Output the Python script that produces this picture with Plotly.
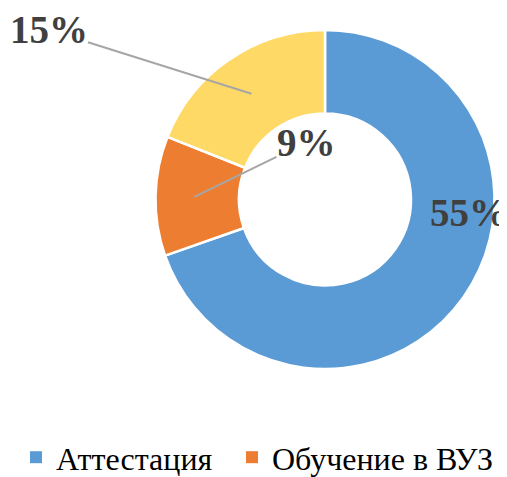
import math
import plotly.graph_objects as go

# ---- data ----
labels = ["Аттестация", "Обучение в ВУЗ", "Другое"]
values = [55, 9, 15]
label_texts = ["55%", "9%", "15%"]
colors = ["#5B9BD5", "#ED7D31", "#FFD966"]
legend_labels = ["Аттестация", "Обучение в ВУЗ"]

W, H = 507, 477
OFF = 8  # page body margin shifts the figure by this many px
cx, cy, R, r_in = 325 - OFF, 204 - OFF, 173.5, 88

def px2paper(x, y):
    return x / W, 1 - y / H

fig = go.Figure()
fig.add_trace(go.Pie(
    labels=labels, values=values, sort=False, direction="clockwise", rotation=0,
    hole=r_in / R, marker=dict(colors=colors, line=dict(color="white", width=2.5)),
    textinfo="none", hoverinfo="label+value", showlegend=False,
    domain=dict(x=[(cx - R) / W, (cx + R) / W], y=[1 - (cy + R) / H, 1 - (cy - R) / H]),
))

# legend entries (only the two shown in the reference), each in its own legend box
legend_ids = ["legend", "legend2"]
for name, col, lid in zip(legend_labels, colors, legend_ids):
    fig.add_trace(go.Scatter(x=[None], y=[None], mode="markers", name=name, legend=lid,
                             marker=dict(symbol="square", size=12, color=col)))

# label positions derived from slice angles
total = sum(values)
cum = 0
mid_angles = []
for v in values:
    mid_angles.append((cum + v / 2) / total * 2 * math.pi)
    cum += v

def ring_point(angle, rad):
    return cx + rad * math.sin(angle), cy - rad * math.cos(angle)

rm = (R + r_in) / 2
font = dict(family="Liberation Serif", size=39, color="#404040")
# 55% label inside blue slice
x, y = px2paper(469 - OFF, 217 - OFF)
fig.add_annotation(x=x, y=y, xref="paper", yref="paper", xanchor="center", yanchor="middle",
                   text="<b>%s</b>" % label_texts[0], showarrow=False, font=font,
                   borderpad=0, borderwidth=0)
# 9% with leader
hx, hy = ring_point(mid_angles[1], rm)
x, y = px2paper(hx, hy)
fig.add_annotation(x=x, y=y, xref="paper", yref="paper",
                   text="<b>%s</b>" % label_texts[1], font=font,
                   showarrow=True, arrowhead=0, arrowwidth=2, arrowcolor="#A6A6A6",
                   borderpad=0, borderwidth=0,
                   ax=(306 - OFF) - hx, ay=(147 - OFF) - hy)
# 15% with leader
hx, hy = ring_point(mid_angles[2], rm)
x, y = px2paper(hx, hy)
fig.add_annotation(x=x, y=y, xref="paper", yref="paper",
                   text="<b>%s</b>" % label_texts[2], font=font,
                   showarrow=True, arrowhead=0, arrowwidth=2, arrowcolor="#A6A6A6",
                   borderpad=0, borderwidth=0,
                   ax=(49 - OFF) - hx, ay=(32 - OFF) - hy)

legend_font = dict(family="Liberation Serif", size=32, color="black")
l1x, ly = px2paper(16 - OFF, 468 - OFF)
l2x, _ = px2paper(232 - OFF, 468 - OFF)
fig.update_layout(
    width=W, height=H, margin=dict(l=0, r=0, t=0, b=0),
    paper_bgcolor="white", plot_bgcolor="white",
    xaxis=dict(visible=False), yaxis=dict(visible=False),
    showlegend=True,
    legend=dict(orientation="h", x=l1x, xanchor="left", y=ly, yanchor="middle",
                font=legend_font, itemclick=False, bgcolor="rgba(0,0,0,0)"),
    legend2=dict(orientation="h", x=l2x, xanchor="left", y=ly, yanchor="middle",
                 font=legend_font, itemclick=False, bgcolor="rgba(0,0,0,0)"),
)
fig.write_html("out.html")
